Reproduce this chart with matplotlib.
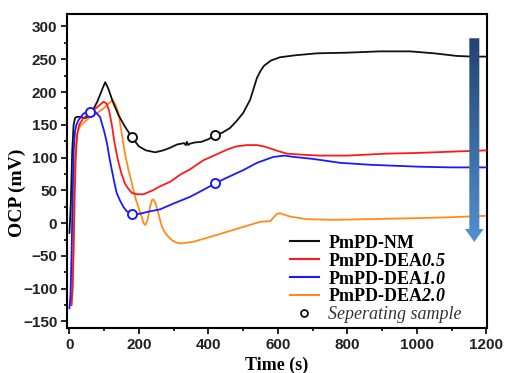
import numpy as np
import matplotlib
matplotlib.use("Agg")
import matplotlib.pyplot as plt
from matplotlib.lines import Line2D
from matplotlib.patches import Polygon
from matplotlib.ticker import MultipleLocator
from matplotlib.colors import LinearSegmentedColormap

plt.rcParams['mathtext.fontset'] = 'custom'
plt.rcParams['mathtext.rm'] = 'Liberation Serif:bold'
plt.rcParams['mathtext.it'] = 'Liberation Serif:italic'
plt.rcParams['mathtext.bf'] = 'Liberation Serif:bold'
plt.rcParams['mathtext.bfit'] = 'Liberation Serif:bold:italic'

# ---------------- data ----------------
t_nm = [0, 4, 8, 12, 16, 20, 30, 45, 60, 80, 95, 103, 112, 125, 141, 160, 181, 200, 220, 247,
        270, 290, 310, 320, 330, 335, 338, 342, 346, 360, 380, 400, 419, 440, 462, 480, 500, 520,
        530, 540, 550, 560, 580, 606, 650, 712, 800, 894, 980, 1050, 1115, 1160, 1200]
ocp_nm = [-15, 30, 110, 150, 160, 162, 162, 160, 165, 185, 205, 215, 205, 185, 165, 147, 130, 117, 111, 108,
          111, 115, 120, 121, 122, 119, 124, 119, 121, 123, 124, 128, 134, 138, 145, 155, 168, 188,
          205, 222, 232, 240, 248, 253, 256, 259, 260, 262, 262, 259, 255, 254, 254]

t_05 = [6, 9, 12, 15, 18, 22, 28, 40, 60, 80, 98, 106, 114, 122, 130, 140, 150, 160, 170, 180, 195, 213,
        240, 260, 290, 319, 347, 386, 420, 453, 480, 510, 540, 560, 578, 600, 626, 680, 720, 800, 913,
        1000, 1100, 1200]
ocp_05 = [-125, -100, -40, 40, 100, 135, 150, 160, 168, 177, 185, 183, 172, 150, 122, 95, 75, 60, 52, 46, 44, 44,
          50, 56, 63, 74, 82, 96, 104, 112, 117, 119, 119, 117, 114, 110, 106, 104, 103, 103, 106,
          107, 109, 111]

t_10 = [0, 3, 6, 9, 12, 16, 20, 26, 40, 50, 61, 74, 88, 100, 108, 115, 122, 130, 136, 145, 155, 165, 181,
        200, 232, 261, 300, 347, 390, 424, 460, 501, 540, 587, 620, 645, 700, 779, 865, 1009, 1100, 1200]
ocp_10 = [-130, -110, -50, 40, 110, 140, 150, 157, 167, 169, 169, 170, 162, 140, 122, 100, 81, 60, 46, 35, 25, 18, 14,
          14, 18, 21, 30, 40, 52, 62, 71, 81, 92, 101, 103, 101, 98, 92, 89, 86, 85, 85]

t_20 = [5, 8, 11, 14, 18, 24, 31, 45, 60, 80, 98, 112, 125, 133, 141, 148, 155, 162, 170, 180, 189, 198,
        208, 213, 218, 225, 232, 237, 242, 248, 256, 263, 270, 280, 295, 309, 323, 360, 424, 480, 549,
        578, 590, 597, 606, 635, 683, 760, 850, 1000, 1100, 1191, 1200]
ocp_20 = [-125, -110, -60, 60, 115, 140, 148, 155, 162, 168, 175, 182, 188, 180, 168, 145, 122, 100, 81, 60, 40, 25,
          10, 0, -3, 5, 25, 35, 36, 30, 15, 0, -10, -18, -26, -30, -31, -28, -18, -9, 2,
          3, 10, 14, 15, 10, 6, 5, 6, 7.6, 9, 11, 11]

sample_t_nm = [180, 420]
sample_t_10 = [60, 180, 420]

labels = ["PmPD-NM", r"PmPD-DEA$\mathbfit{0.5}$", r"PmPD-DEA$\mathbfit{1.0}$",
          r"PmPD-DEA$\mathbfit{2.0}$", "Seperating sample"]
colors = ["#111111", "#ff1a1a", "#1a1aff", "#ff8c1a"]
xticks = [0, 200, 400, 600, 800, 1000, 1200]
yticks = [-150, -100, -50, 0, 50, 100, 150, 200, 250, 300]

# ---------------- figure ----------------
fig = plt.figure(figsize=(5.05, 3.73), dpi=100)
ax = fig.add_axes([0.1327, 0.1206, 0.8317, 0.8419])

lw = 1.3
ax.plot(t_nm, ocp_nm, color=colors[0], lw=lw, zorder=3)
ax.plot(t_05, ocp_05, color=colors[1], lw=lw, zorder=3)
ax.plot(t_10, ocp_10, color=colors[2], lw=lw, zorder=4)
ax.plot(t_20, ocp_20, color=colors[3], lw=lw, zorder=2)

ax.plot(sample_t_nm, np.interp(sample_t_nm, t_nm, ocp_nm), 'o', ms=6.5, mfc='white',
        mec=colors[0], mew=1.4, zorder=5)
ax.plot(sample_t_10, np.interp(sample_t_10, t_10, ocp_10), 'o', ms=6.5, mfc='white',
        mec=colors[2], mew=1.4, zorder=5)

ax.set_xticks(xticks)
ax.set_yticks(yticks)
ax.xaxis.set_minor_locator(MultipleLocator(100))
ax.yaxis.set_minor_locator(MultipleLocator(25))
ax.tick_params(which='both', direction='out', top=False, right=False, width=1.2)
ax.tick_params(which='major', length=4.5, pad=2.5)
ax.tick_params(which='minor', length=2.5)
for lab in ax.get_xticklabels() + ax.get_yticklabels():
    lab.set_fontfamily('Liberation Sans')
    lab.set_fontweight('bold')
    lab.set_fontsize(11)
    lab.set_color('#222222')
for s in ax.spines.values():
    s.set_linewidth(1.5)

ax.set_xlabel("Time (s)", fontfamily='Liberation Serif', fontweight='bold', fontsize=13)
ax.set_ylabel("OCP (mV)", fontfamily='Liberation Serif', fontweight='bold', fontsize=14)
ax.xaxis.set_label_coords(0.5, -0.092)
ax.yaxis.set_label_coords(-0.097, 0.43)

# legend
handles = [Line2D([], [], color=c, lw=1.5) for c in colors]
handles.append(Line2D([], [], ls='none', marker='o', ms=5, mfc='white', mec='#111111', mew=1.3))
leg = ax.legend(handles, labels, loc='lower left', bbox_to_anchor=(0.53, 0.015),
                frameon=False, borderpad=0, borderaxespad=0, handlelength=1.6,
                handletextpad=0.55, labelspacing=0.05,
                prop={'family': 'Liberation Serif', 'weight': 'bold', 'size': 13})
last = leg.get_texts()[-1]
last.set_fontweight('normal')
last.set_fontstyle('italic')
last.set_color('#333333')

# gradient arrow (axes fraction coordinates)
def fx(px):
    return (px - 67) / 420.0

def fy(py):
    return (328 - py) / 314.0

arrow_pts = [(fx(469.3), fy(38.3)), (fx(479.3), fy(38.3)), (fx(479.3), fy(229)),
             (fx(483.5), fy(229)), (fx(474.3), fy(242)), (fx(465), fy(229)), (fx(469.3), fy(229))]
poly = Polygon(arrow_pts, closed=True, transform=ax.transAxes, facecolor='none',
               edgecolor='none', zorder=6)
ax.add_patch(poly)
cmap = LinearSegmentedColormap.from_list('arr', ['#23446e', '#5290d0'])
grad = np.linspace(0, 1, 256).reshape(-1, 1)
im = ax.imshow(grad, cmap=cmap, aspect='auto', origin='upper', transform=ax.transAxes,
               extent=[fx(465), fx(483.5), fy(242), fy(38.3)], zorder=6)
im.set_clip_path(poly)
ax.set_xlim(-7, 1202)
ax.set_ylim(-160, 319)

fig.savefig("out.png", dpi=100)
